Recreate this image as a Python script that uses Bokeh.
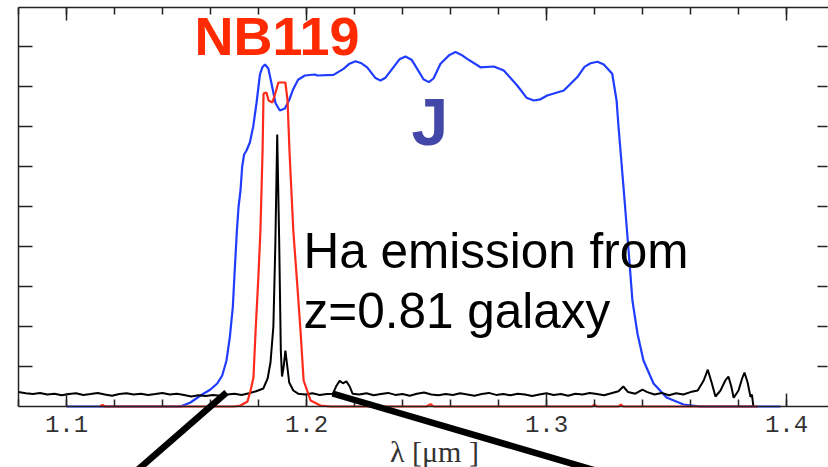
from bokeh.plotting import figure
from bokeh.models import (Range1d, LinearAxis, FixedTicker, Label, Arrow)
from bokeh.embed import file_html
from bokeh.resources import INLINE
import numpy as np

# ---------------- data ----------------
# J-band filter transmission (blue)
j_wave = [1.1000, 1.1350, 1.1475, 1.15167, 1.15583, 1.1600, 1.16279, 1.16488,
          1.16667, 1.16804, 1.16929, 1.1700, 1.1710, 1.1717, 1.1725, 1.1732,
          1.1740, 1.1750, 1.1764, 1.1778, 1.1792, 1.1806, 1.1816, 1.1827, 1.1841,
          1.1854, 1.1871, 1.1889, 1.1910, 1.1927, 1.1945, 1.1965, 1.1993, 1.2035,
          1.20446, 1.21125, 1.21542, 1.21792, 1.22042, 1.22292, 1.22529, 1.22875,
          1.23083, 1.23292, 1.23571, 1.23875, 1.24125, 1.24375, 1.24613, 1.24875,
          1.25096, 1.25292, 1.25583, 1.25958, 1.26208, 1.26458, 1.26696, 1.2725,
          1.27804, 1.28221, 1.28779, 1.29167, 1.29471, 1.2975, 1.30029, 1.30721,
          1.31279, 1.31583, 1.31833, 1.32125, 1.32388, 1.32738,
          1.3292, 1.3300, 1.3321, 1.3342, 1.3358, 1.3379, 1.3404, 1.3446, 1.3500,
          1.3571, 1.3642, 1.3975]
j_trans = [0.0, 0.0, 0.0, 0.010, 0.0275, 0.0425, 0.0575, 0.0775,
           0.115, 0.173, 0.248, 0.330, 0.440, 0.500, 0.540, 0.600,
           0.630, 0.640, 0.660, 0.700, 0.760, 0.830, 0.848, 0.855, 0.845,
           0.808, 0.758, 0.740, 0.745, 0.765, 0.794, 0.817, 0.8275, 0.830,
           0.8275, 0.829, 0.844, 0.857, 0.863, 0.858, 0.848, 0.821,
           0.815, 0.822, 0.844, 0.868, 0.875, 0.867, 0.844, 0.818,
           0.811, 0.820, 0.857, 0.879, 0.886, 0.879, 0.869, 0.848,
           0.850, 0.840, 0.8025, 0.772, 0.765, 0.768, 0.7775, 0.790,
           0.823, 0.849, 0.858, 0.862, 0.855, 0.832,
           0.765, 0.700, 0.5475, 0.390, 0.265, 0.1825, 0.115, 0.0575, 0.0225,
           0.005, 0.0, 0.0]

# NB119 narrow-band filter transmission (red)
nb_wave = [1.1140, 1.1150, 1.1160, 1.1400, 1.1600, 1.1700, 1.1725, 1.1754, 1.1767,
           1.1779, 1.1788, 1.1800, 1.1808, 1.1817, 1.1821, 1.1833, 1.1842, 1.1858,
           1.1871, 1.1883, 1.1912, 1.1921, 1.1929, 1.1945, 1.1962, 1.1975, 1.1988,
           1.2017, 1.2058, 1.2100, 1.2500, 1.2517, 1.2530, 1.3190, 1.3200, 1.3210,
           1.3300, 1.3310, 1.3320, 1.3880]
nb_trans = [0.0, 0.004, 0.0, 0.0, 0.0, 0.0, 0.0025, 0.0125, 0.040,
            0.0725, 0.19, 0.33, 0.44, 0.64, 0.7825, 0.785, 0.765, 0.760,
            0.785, 0.810, 0.810, 0.765, 0.640, 0.440, 0.300, 0.190, 0.065,
            0.015, 0.0025, 0.0, 0.0, 0.006, 0.0, 0.0, 0.005, 0.0,
            0.0, 0.005, 0.0, 0.0]

# galaxy spectrum (black)
spec_wave = [1.0800, 1.0830, 1.0860, 1.0890, 1.0920, 1.0950, 1.0980, 1.1010, 1.1040,
             1.1070, 1.1100, 1.1130, 1.1160, 1.1190, 1.1220, 1.1250, 1.1280, 1.1310,
             1.1340, 1.1370, 1.1400, 1.1430, 1.1460, 1.1490, 1.1520, 1.1550, 1.1580,
             1.1610, 1.1640, 1.1670, 1.1700, 1.1730, 1.1760, 1.1790, 1.1820, 1.1838,
             1.1850, 1.1862, 1.1870, 1.1878, 1.1886, 1.1893, 1.1898, 1.1905, 1.1912,
             1.1918, 1.1928, 1.1945, 1.1965, 1.1995, 1.2025, 1.2055, 1.2085, 1.2110,
             1.2125, 1.2138, 1.2152, 1.2166, 1.2180, 1.2192, 1.2220, 1.2250, 1.2280,
             1.2310, 1.2340, 1.2370, 1.2400, 1.2430, 1.2460, 1.2490, 1.2520, 1.2550,
             1.2580, 1.2610, 1.2640, 1.2670, 1.2700, 1.2730, 1.2760, 1.2790, 1.2820,
             1.2850, 1.2880, 1.2910, 1.2940, 1.2970, 1.3000, 1.3030, 1.3060, 1.3090,
             1.3120, 1.3150, 1.3180, 1.3210, 1.3240, 1.3270, 1.3300, 1.3320, 1.3340,
             1.3370, 1.3400, 1.3420, 1.3450, 1.3480, 1.3510, 1.3540, 1.3570, 1.3600,
             1.3630, 1.3655, 1.3672, 1.3688, 1.3704, 1.3725, 1.3745, 1.3758, 1.3770,
             1.3780, 1.3800, 1.3815, 1.3825, 1.3838, 1.3850, 1.3856, 1.3862]
spec_flux = [0.036, 0.033, 0.031, 0.034, 0.030, 0.032, 0.028, 0.031, 0.033,
             0.029, 0.031, 0.034, 0.030, 0.027, 0.031, 0.033, 0.030, 0.032,
             0.029, 0.031, 0.034, 0.030, 0.032, 0.029, 0.025, 0.028, 0.026,
             0.029, 0.027, 0.030, 0.032, 0.029, 0.033, 0.038, 0.045, 0.070,
             0.110, 0.200, 0.400, 0.680, 0.420, 0.140, 0.075, 0.100, 0.140,
             0.110, 0.060, 0.040, 0.032, 0.030, 0.033, 0.029, 0.031, 0.032,
             0.052, 0.064, 0.058, 0.063, 0.050, 0.032, 0.030, 0.033, 0.028,
             0.031, 0.034, 0.029, 0.031, 0.027, 0.032, 0.035, 0.030, 0.028,
             0.031, 0.029, 0.033, 0.030, 0.027, 0.031, 0.034, 0.029, 0.031,
             0.028, 0.032, 0.030, 0.026, 0.030, 0.033, 0.029, 0.031, 0.027,
             0.032, 0.030, 0.034, 0.031, 0.028, 0.033, 0.038, 0.050, 0.036,
             0.032, 0.042, 0.036, 0.030, 0.034, 0.028, 0.033, 0.030, 0.036,
             0.040, 0.065, 0.092, 0.060, 0.025, 0.040, 0.065, 0.075, 0.050,
             0.022, 0.040, 0.070, 0.085, 0.060, 0.024, 0.030, 0.0]

x_tick_values = [1.1, 1.2, 1.3, 1.4]
x_tick_labels = ["1.1", "1.2", "1.3", "1.4"]
x_label = "λ [μm ]"

# plot box (data units)
x_min, x_max = 1.08, 1.4175
y_min, y_max = 0.0, 0.9975

# slide annotation pointer lines (start / end in data units)
pointer_x0 = [1.16667, 1.21083]
pointer_y0 = [0.035, 0.0325]
pointer_x1 = [1.12458, 1.33460]
pointer_y1 = [-0.185, -0.185]

# ---------------- figure ----------------
W, H = 828, 467
p = figure(width=W, height=H,
           x_range=Range1d(1.0725, 1.4175), y_range=Range1d(-0.1525, 1.015),
           output_backend="svg", toolbar_location=None,
           x_axis_location=None, y_axis_location=None, min_border=0)
p.outline_line_color = None
p.grid.visible = False
p.background_fill_color = "white"
p.border_fill_color = "white"

AX = "#222222"
minor_x = [round(v, 2) for v in np.arange(1.08, 1.42, 0.02)]
y_ticks = [round(v, 1) for v in np.arange(0.1, 1.0, 0.1)]


def make_axis(loc, bounds, ticks, minor, major_in, minor_in, labels=None, line=True):
    ax = LinearAxis(fixed_location=loc, bounds=bounds,
                    ticker=FixedTicker(ticks=ticks, minor_ticks=minor))
    ax.major_tick_in = major_in
    ax.major_tick_out = 0
    ax.minor_tick_in = minor_in
    ax.minor_tick_out = 0
    ax.major_tick_line_color = AX
    ax.minor_tick_line_color = AX
    ax.major_tick_line_width = 1.5
    ax.minor_tick_line_width = 1.5
    ax.axis_line_color = AX if line else None
    ax.axis_line_width = 1.5
    if labels is None:
        ax.major_label_overrides = {t: "" for t in ticks}
    else:
        ax.major_label_overrides = dict(zip(ticks, labels))
    return ax


xb = make_axis(y_min, (x_min, x_max), x_tick_values, minor_x, 13, 7, labels=x_tick_labels)
xb.major_label_text_font = "Liberation Mono"
xb.major_label_text_font_size = "24px"
xb.major_label_text_color = "#333333"
xb.major_label_standoff = 9
p.add_layout(xb, "below")

xt = make_axis(y_max, (x_min, x_max), x_tick_values, minor_x, 13, 7)
p.add_layout(xt, "above")

yl = make_axis(x_min, (y_min, y_max), y_ticks, [], 14, 0)
p.add_layout(yl, "left")

yr = make_axis(1.4171, (y_min, y_max), y_ticks, [], 10, 0, line=False)
p.add_layout(yr, "right")

# curves
p.line(x=j_wave, y=j_trans, line_color="#1f3cff", line_width=2.2)
p.line(x=spec_wave, y=spec_flux, line_color="black", line_width=2.0)
p.line(x=nb_wave, y=nb_trans, line_color="#ff2a1a", line_width=2.2)

# text annotations
p.add_layout(Label(x=1.15333, y=0.9275, text="NB119", text_color="#ff2a00",
                   text_font="Liberation Sans", text_font_style="bold",
                   text_font_size="54px", text_baseline="alphabetic"))
p.add_layout(Label(x=1.24375, y=0.7125, text="J", text_color="#4347a8",
                   text_font="Liberation Sans", text_font_style="bold",
                   text_font_size="66px", text_baseline="alphabetic"))
p.add_layout(Label(x=1.19875, y=0.39, text="Ha emission from", text_color="black",
                   text_font="Liberation Sans", text_font_size="49.5px",
                   text_baseline="alphabetic"))
p.add_layout(Label(x=1.19875, y=0.24, text="z=0.81 galaxy", text_color="black",
                   text_font="Liberation Sans", text_font_size="49.5px",
                   text_baseline="alphabetic"))
p.add_layout(Label(x=1.2533, y=-0.113, text=x_label, text_color="#333333",
                   text_font="Liberation Serif", text_font_size="30px",
                   text_align="center", text_baseline="alphabetic"))

# pointer lines from the slide
for xs, ys, xe, ye in zip(pointer_x0, pointer_y0, pointer_x1, pointer_y1):
    p.add_layout(Arrow(end=None, x_start=xs, y_start=ys, x_end=xe, y_end=ye,
                       line_color="black", line_width=6.5))

open("out.html", "w").write(file_html(p, INLINE))
